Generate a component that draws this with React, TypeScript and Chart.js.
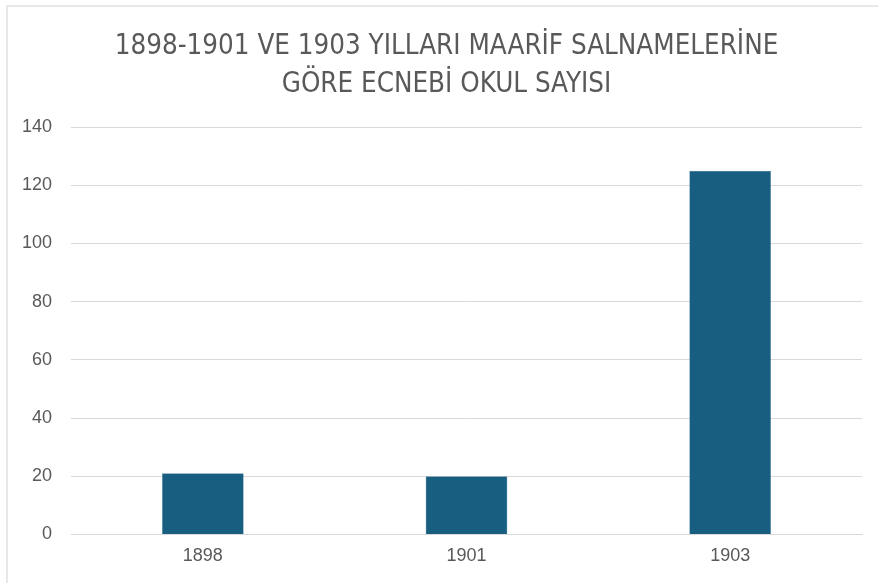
import React, { useEffect, useRef } from "react";
import { Chart, registerables } from "chart.js";

Chart.register(...registerables);

const titleLines = ["1898-1901 VE 1903 YILLARI MAARİF SALNAMELERİNE", "GÖRE ECNEBİ OKUL SAYISI"];
const categories = ["1898", "1901", "1903"];
const schoolCounts = [21, 20, 125];
const yMin = 0;
const yMax = 140;
const yStep = 20;

const titlePlugin = {
  id: "centeredTitle",
  afterDraw(chart: any) {
    const ctx = chart.ctx;
    ctx.save();
    ctx.font = "normal 27.5px 'DejaVu Sans Condensed', 'Liberation Sans', sans-serif";
    ctx.fillStyle = "#595959";
    ctx.textAlign = "center";
    ctx.textBaseline = "middle";
    const cx = 438.5;
    titleLines.forEach((line, i) => {
      ctx.fillText(line, cx, 40 + i * 38);
    });
    ctx.restore();
  },
};

export default function App() {
  const canvasRef = useRef<HTMLCanvasElement | null>(null);

  useEffect(() => {
    if (!canvasRef.current) return;
    const chart = new Chart(canvasRef.current, {
      type: "bar",
      data: {
        labels: categories,
        datasets: [
          {
            data: schoolCounts,
            backgroundColor: "#175E80",
            borderColor: "#5d8fa8",
            borderWidth: 0.5,
            categoryPercentage: 1,
            barPercentage: 0.31,
          },
        ],
      },
      options: {
        animation: false,
        responsive: false,
        maintainAspectRatio: false,
        layout: { padding: { left: 0, right: 16, top: 120, bottom: 5 } },
        plugins: {
          legend: { display: false },
          tooltip: { enabled: false },
          title: { display: false },
        },
        scales: {
          x: {
            grid: { display: false, drawTicks: false },
            border: { display: true, color: "#d9d9d9", width: 1 },
            ticks: { color: "#595959", font: { family: "'Liberation Sans', Arial, sans-serif", size: 18 }, padding: 11 },
          },
          y: {
            min: yMin,
            max: yMax,
            afterFit: (scale: any) => { scale.width = 63; },
            grid: { color: "#d9d9d9", lineWidth: 1, drawTicks: false },
            border: { display: false },
            ticks: { stepSize: yStep, color: "#595959", font: { family: "'Liberation Sans', Arial, sans-serif", size: 18 }, padding: 19 },
          },
        },
      },
      plugins: [titlePlugin],
    });
    return () => chart.destroy();
  }, []);

  return (
    <div style={{ position: "absolute", left: 0, top: 0, width: 878, height: 583, background: "#fff", overflow: "hidden" }}>
      <div style={{ position: "absolute", left: 6, top: 5, right: 0, bottom: 0, borderLeft: "2px solid #e8e8e8", borderTop: "2px solid #e8e8e8" }} />
      <canvas ref={canvasRef} width={870} height={576} style={{ position: "absolute", left: 8, top: 7, width: 870, height: 576 }} />
    </div>
  );
}
